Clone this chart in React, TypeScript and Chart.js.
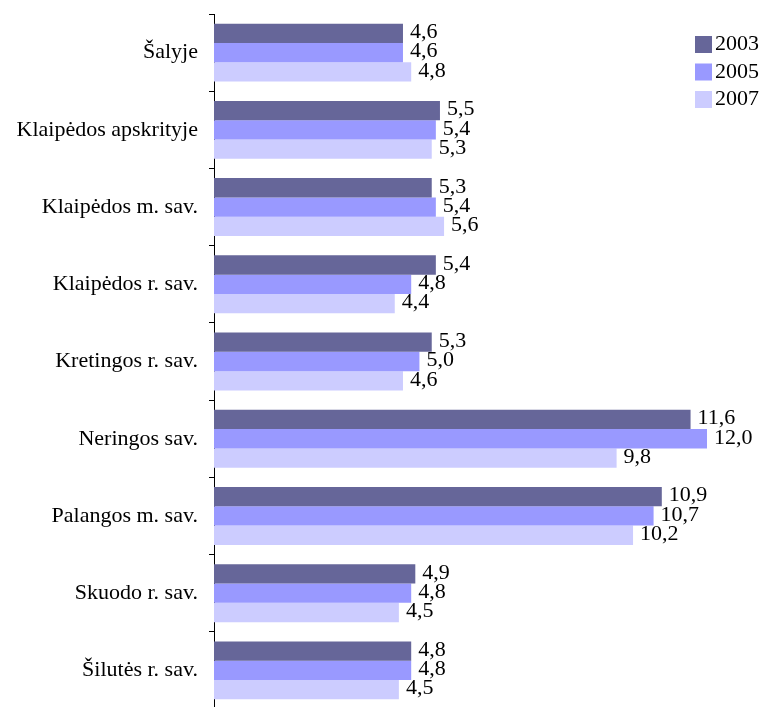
import React, { useEffect, useRef } from "react";
import { Chart, registerables } from "chart.js";

Chart.register(...registerables);

const categories = [
  "Šalyje",
  "Klaipėdos apskrityje",
  "Klaipėdos m. sav.",
  "Klaipėdos r. sav.",
  "Kretingos r. sav.",
  "Neringos sav.",
  "Palangos m. sav.",
  "Skuodo r. sav.",
  "Šilutės r. sav.",
];
const seriesLabels = ["2003", "2005", "2007"];
const values2003 = [4.6, 5.5, 5.3, 5.4, 5.3, 11.6, 10.9, 4.9, 4.8];
const values2005 = [4.6, 5.4, 5.4, 4.8, 5.0, 12.0, 10.7, 4.8, 4.8];
const values2007 = [4.8, 5.3, 5.6, 4.4, 4.6, 9.8, 10.2, 4.5, 4.5];
const colors = ["#666699", "#9999FF", "#CCCCFF"];

const FONT = '"Liberation Serif", "Times New Roman", serif';
const FONT_SIZE = 22;

const valueLabels = {
  id: "valueLabels",
  afterDatasetsDraw(chart: any) {
    const ctx = chart.ctx;
    ctx.save();
    ctx.font = `${FONT_SIZE}px ${FONT}`;
    ctx.fillStyle = "#000";
    ctx.textAlign = "left";
    ctx.textBaseline = "middle";
    chart.data.datasets.forEach((ds: any, di: number) => {
      const meta = chart.getDatasetMeta(di);
      meta.data.forEach((bar: any, i: number) => {
        const v = ds.data[i] as number;
        ctx.fillText(v.toFixed(1).replace(".", ","), bar.x + 7, bar.y - 1);
      });
    });
    ctx.restore();
  },
};

const sideLegend = {
  id: "sideLegend",
  afterDraw(chart: any) {
    const ctx = chart.ctx;
    ctx.save();
    ctx.font = `${FONT_SIZE}px ${FONT}`;
    ctx.textAlign = "left";
    ctx.textBaseline = "middle";
    const x = 695;
    const y0 = 36;
    const step = 27.5;
    chart.data.datasets.forEach((ds: any, i: number) => {
      const y = y0 + i * step;
      ctx.fillStyle = ds.backgroundColor;
      ctx.fillRect(x, y, 17, 17);
      ctx.fillStyle = "#000";
      ctx.fillText(ds.label, x + 20, y + 8.5);
    });
    ctx.restore();
  },
};

export default function App() {
  const ref = useRef<HTMLCanvasElement>(null);
  useEffect(() => {
    if (!ref.current) return;
    const data = [values2003, values2005, values2007];
    const chart = new Chart(ref.current, {
      type: "bar",
      data: {
        labels: categories,
        datasets: seriesLabels.map((l, i) => ({
          label: l,
          data: data[i],
          backgroundColor: colors[i],
          borderWidth: 0,
          categoryPercentage: 0.75,
          barPercentage: 1,
        })),
      },
      options: {
        indexAxis: "y",
        responsive: false,
        animation: false,
        layout: { padding: { left: 0, right: 56, top: 14, bottom: 0 } },
        plugins: {
          legend: { display: false },
          tooltip: { enabled: false },
        },
        scales: {
          x: { display: false, min: 0, max: 12 },
          y: {
            afterFit(scale: any) {
              scale.width = 214;
              scale.paddingTop = 0;
              scale.paddingBottom = 0;
            },
            border: { display: true, color: "#000", width: 1 },
            grid: {
              display: true,
              drawOnChartArea: false,
              drawTicks: true,
              tickLength: 5,
              color: "#000",
              offset: true,
            },
            ticks: {
              color: "#000",
              padding: 11,
              font: { family: FONT, size: FONT_SIZE },
            },
          },
        },
      },
      plugins: [valueLabels, sideLegend],
    });
    return () => chart.destroy();
  }, []);
  return (
    <div
      style={{
        position: "absolute",
        left: 0,
        top: 0,
        width: 763,
        height: 707,
        overflow: "hidden",
        background: "#fff",
      }}
    >
      <canvas ref={ref} width={763} height={709} style={{ display: "block" }} />
    </div>
  );
}
